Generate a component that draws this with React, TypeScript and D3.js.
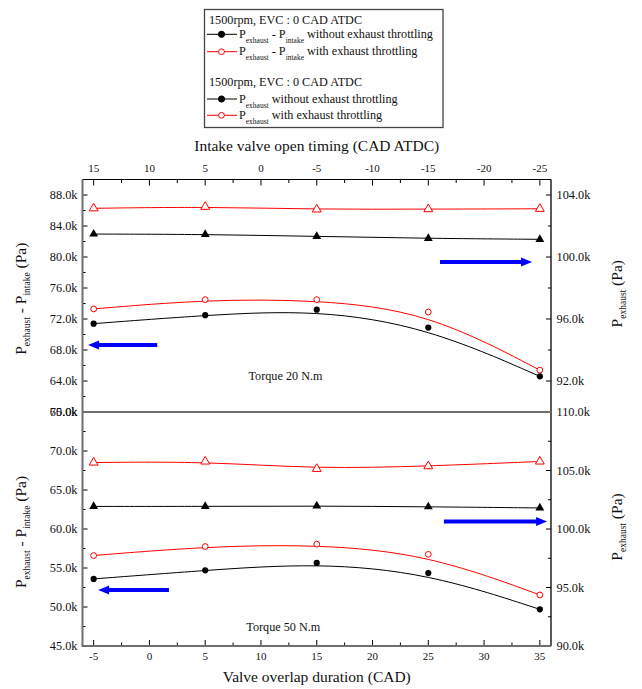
import React from 'react'
import * as d3 from 'd3'

// valve overlap duration (CAD) of the measured points
const overlap = [-5, 5, 15, 25, 35]
const overlapTicks = [-5, 0, 5, 10, 15, 20, 25, 30, 35]
// intake valve open timing = 10 - overlap
const ivoTicks = [15, 10, 5, 0, -5, -10, -15, -20, -25]

// Torque 20 N.m
const dp20NoThrottle = [71400, 72500, 73200, 70900, 64600]
const dp20Throttle = [73300, 74500, 74500, 72900, 65400]
const pex20NoThrottle = [101480, 101460, 101330, 101200, 101140]
const pex20Throttle = [103140, 103240, 103070, 103090, 103110]

// Torque 50 N.m
const dp50NoThrottle = [53600, 54700, 55650, 54350, 49700]
const dp50Throttle = [56600, 57750, 58050, 56750, 51550]
const pex50NoThrottle = [101930, 101930, 101970, 101900, 101800]
const pex50Throttle = [105680, 105770, 105140, 105370, 105770]

const leftTicks20 = [60000, 64000, 68000, 72000, 76000, 80000, 84000, 88000]
const rightTicks20 = [92000, 96000, 100000, 104000]
const leftTicks50 = [45000, 50000, 55000, 60000, 65000, 70000, 75000]
const rightTicks50 = [90000, 95000, 100000, 105000, 110000]

const W = 642
const H = 689
const xL = 82.5
const xR = 551
const yTop = 179.5
const yMid = 412
const yBot = 646

const FONT = '"Liberation Serif", "Times New Roman", serif'
const RED = '#ff0000'
const BLUE = '#0000ff'
const GRAY = '#6e6e6e'

const x = d3.scaleLinear().domain([-6, 36]).range([xL, xR])
const xIvo = d3.scaleLinear().domain([16, -26]).range([xL, xR])

type Panel = {
  label: string
  left: d3.ScaleLinear<number, number>
  right: d3.ScaleLinear<number, number>
  leftTicks: number[]
  rightTicks: number[]
  dpNo: number[]
  dpYes: number[]
  pNo: number[]
  pYes: number[]
  labelAt: [number, number]
  arrowLeft: [number, number, number]
  arrowRight: [number, number, number]
}

const panels: Panel[] = [
  {
    label: 'Torque 20 N.m',
    left: d3.scaleLinear().domain([60000, 90000]).range([yMid, yTop]),
    right: d3.scaleLinear().domain([90000, 105000]).range([yMid, yTop]),
    leftTicks: leftTicks20,
    rightTicks: rightTicks20,
    dpNo: dp20NoThrottle,
    dpYes: dp20Throttle,
    pNo: pex20NoThrottle,
    pYes: pex20Throttle,
    labelAt: [12.2, 64100],
    arrowLeft: [0.7, -5.5, 68640],
    arrowRight: [26.05, 34.3, 99680]
  },
  {
    label: 'Torque 50 N.m',
    left: d3.scaleLinear().domain([45000, 75000]).range([yBot, yMid]),
    right: d3.scaleLinear().domain([90000, 110000]).range([yBot, yMid]),
    leftTicks: leftTicks50,
    rightTicks: rightTicks50,
    dpNo: dp50NoThrottle,
    dpYes: dp50Throttle,
    pNo: pex50NoThrottle,
    pYes: pex50Throttle,
    labelAt: [12, 46900],
    arrowLeft: [1.75, -4.6, 52170],
    arrowRight: [26.4, 35.65, 100640]
  }
]

const fmtK = (v: number) => (v / 1000).toFixed(1) + 'k'
const mids = (t: number[]) => t.slice(1).map((v, i) => (v + t[i]) / 2)
const tri = d3.symbol(d3.symbolTriangle, 34)()

const curve = (ys: number[], y: d3.ScaleLinear<number, number>) =>
  d3.line<number>()
    .x((_, i) => x(overlap[i]))
    .y((d) => y(d))
    .curve(d3.curveBasis)(ys) || ''

const arrowPath = (x0: number, x1: number, y: number) => {
  const dir = x1 > x0 ? 1 : -1
  const head = 11
  const hw = 4.5
  const lw = 2
  const b = x1 - dir * head
  return `M${x0},${y - lw}L${b},${y - lw}L${b},${y - hw}L${x1},${y}L${b},${y + hw}L${b},${y + lw}L${x0},${y + lw}Z`
}

function Sub({ t, size, dy }: { t: string; size: number; dy: number }) {
  return <tspan fontSize={size} dy={dy}>{t}</tspan>
}

function PanelView({ p }: { p: Panel }) {
  const [y0, y1] = p.left.range()
  return (
    <g>
      {/* left ticks */}
      {p.leftTicks.map((t) => (
        <g key={'l' + t}>
          <line x1={xL} x2={xL + 5} y1={p.left(t)} y2={p.left(t)} stroke="#000" />
          <text x={77.5} y={p.left(t)} dy="0.35em" textAnchor="end" fontSize={12.3}>{fmtK(t)}</text>
        </g>
      ))}
      {mids(p.leftTicks).map((t) => (
        <line key={'lm' + t} x1={xL} x2={xL + 3} y1={p.left(t)} y2={p.left(t)} stroke="#000" />
      ))}
      {/* right ticks */}
      {p.rightTicks.map((t) => (
        <g key={'r' + t}>
          <line x1={xR - 5} x2={xR} y1={p.right(t)} y2={p.right(t)} stroke="#000" />
          <text x={556.5} y={p.right(t)} dy="0.35em" fontSize={12.3}>{fmtK(t)}</text>
        </g>
      ))}
      {mids(p.rightTicks).map((t) => (
        <line key={'rm' + t} x1={xR - 3} x2={xR} y1={p.right(t)} y2={p.right(t)} stroke="#000" />
      ))}

      {/* series */}
      <path d={curve(p.pYes, p.right)} fill="none" stroke={RED} strokeWidth={1} />
      <path d={curve(p.pNo, p.right)} fill="none" stroke="#000" strokeWidth={1} />
      <path d={curve(p.dpYes, p.left)} fill="none" stroke={RED} strokeWidth={1} />
      <path d={curve(p.dpNo, p.left)} fill="none" stroke="#000" strokeWidth={1} />
      {overlap.map((o, i) => (
        <g key={'m' + o}>
          <path d={tri || ''} transform={`translate(${x(o)},${p.right(p.pYes[i])})`} fill="#fff" stroke={RED} strokeWidth={1} />
          <path d={tri || ''} transform={`translate(${x(o)},${p.right(p.pNo[i])})`} fill="#000" />
          <circle cx={x(o)} cy={p.left(p.dpYes[i])} r={2.9} fill="#fff" stroke={RED} strokeWidth={1} />
          <circle cx={x(o)} cy={p.left(p.dpNo[i])} r={3.1} fill="#000" />
        </g>
      ))}

      {/* arrows */}
      <path d={arrowPath(x(p.arrowLeft[0]), x(p.arrowLeft[1]), p.left(p.arrowLeft[2]))} fill={BLUE} />
      <path d={arrowPath(x(p.arrowRight[0]), x(p.arrowRight[1]), p.right(p.arrowRight[2]))} fill={BLUE} />

      <text x={x(p.labelAt[0])} y={p.left(p.labelAt[1])} textAnchor="middle" fontSize={12.2}>{p.label}</text>

      {/* axis titles */}
      <text transform={`translate(26,${(y0 + y1) / 2 + 3}) rotate(-90)`} textAnchor="middle" fontSize={15.5}>
        <tspan>P</tspan>
        <Sub t="exhaust" size={9.5} dy={4} />
        <tspan dy={-4}>{' - P'}</tspan>
        <Sub t="intake" size={9.5} dy={4} />
        <tspan dy={-4}>{' (Pa)'}</tspan>
      </text>
      <text transform={`translate(622,${(y0 + y1) / 2 - 2}) rotate(-90)`} textAnchor="middle" fontSize={15.5}>
        <tspan>P</tspan>
        <Sub t="exhaust" size={9.5} dy={4} />
        <tspan dy={-4}>{' (Pa)'}</tspan>
      </text>
    </g>
  )
}

type LegendRow = { header?: string; fill?: string; stroke?: string; diff?: boolean; text?: string; y: number }
const legendRows: LegendRow[] = [
  { header: '1500rpm, EVC : 0 CAD ATDC', y: 24 },
  { fill: '#000', stroke: '#000', diff: true, text: ' without exhaust throttling', y: 34.3 },
  { fill: '#fff', stroke: RED, diff: true, text: ' with exhaust throttling', y: 51.7 },
  { header: '1500rpm, EVC : 0 CAD ATDC', y: 86 },
  { fill: '#000', stroke: '#000', diff: false, text: ' without exhaust throttling', y: 99 },
  { fill: '#fff', stroke: RED, diff: false, text: ' with exhaust throttling', y: 115.3 }
]

function Legend() {
  return (
    <g>
      <rect x={204.5} y={9.5} width={238.5} height={118} fill="#fff" stroke="#444" strokeWidth={1.3} />
      {legendRows.map((r, i) =>
        r.header ? (
          <text key={i} x={209} y={r.y} fontSize={12.2}>{r.header}</text>
        ) : (
          <g key={i}>
            <line x1={207} x2={237} y1={r.y} y2={r.y} stroke={r.stroke} strokeWidth={1} />
            <circle cx={221.5} cy={r.y} r={r.fill === '#000' ? 3.1 : 2.9} fill={r.fill} stroke={r.stroke} strokeWidth={1} />
            <text x={239} y={r.y + 3.6} fontSize={12.2}>
              <tspan>P</tspan>
              <Sub t="exhaust" size={7.5} dy={5} />
              {r.diff ? (
                <>
                  <tspan dy={-5}>{' - P'}</tspan>
                  <Sub t="intake" size={7.5} dy={5} />
                </>
              ) : null}
              <tspan dy={-5}>{r.text}</tspan>
            </text>
          </g>
        )
      )}
    </g>
  )
}

export default function App() {
  return (
    <svg width={W} height={H} style={{ position: 'absolute', left: 0, top: 0, background: '#fff' }} fontFamily={FONT} fill="#111">
      <Legend />

      {/* top axis: intake valve open timing */}
      <text x={(xL + xR) / 2} y={151} textAnchor="middle" fontSize={15.5}>Intake valve open timing (CAD ATDC)</text>
      {ivoTicks.map((t) => (
        <g key={'it' + t}>
          <line x1={xIvo(t)} x2={xIvo(t)} y1={yTop} y2={yTop + 6} stroke="#000" />
          <text x={xIvo(t)} y={172} textAnchor="middle" fontSize={11}>{t}</text>
        </g>
      ))}
      {mids(ivoTicks).map((t) => (
        <line key={'im' + t} x1={xIvo(t)} x2={xIvo(t)} y1={yTop} y2={yTop + 3.5} stroke="#000" />
      ))}

      {/* bottom axis: overlap */}
      {overlapTicks.map((t) => (
        <g key={'ot' + t}>
          <line x1={x(t)} x2={x(t)} y1={yBot} y2={yBot - 6} stroke="#000" />
          <text x={x(t)} y={659.5} textAnchor="middle" fontSize={11}>{t}</text>
        </g>
      ))}
      {mids(overlapTicks).map((t) => (
        <line key={'om' + t} x1={x(t)} x2={x(t)} y1={yBot} y2={yBot - 3.5} stroke="#000" />
      ))}
      <text x={(xL + xR) / 2} y={682} textAnchor="middle" fontSize={15.5}>Valve overlap duration (CAD)</text>

      {panels.map((p) => <PanelView key={p.label} p={p} />)}

      {/* frame */}
      <line x1={xL} x2={xR} y1={yTop} y2={yTop} stroke="#000" strokeWidth={1.2} />
      <line x1={xR} x2={xR} y1={yTop} y2={yBot} stroke="#000" strokeWidth={1.3} />
      <line x1={xL} x2={xR} y1={yMid} y2={yMid} stroke={GRAY} strokeWidth={2} />
      <line x1={xL} x2={xR} y1={yBot} y2={yBot} stroke={GRAY} strokeWidth={2} />
      <line x1={xL} x2={xL} y1={yTop} y2={yBot + 1} stroke={GRAY} strokeWidth={2} />
    </svg>
  )
}
